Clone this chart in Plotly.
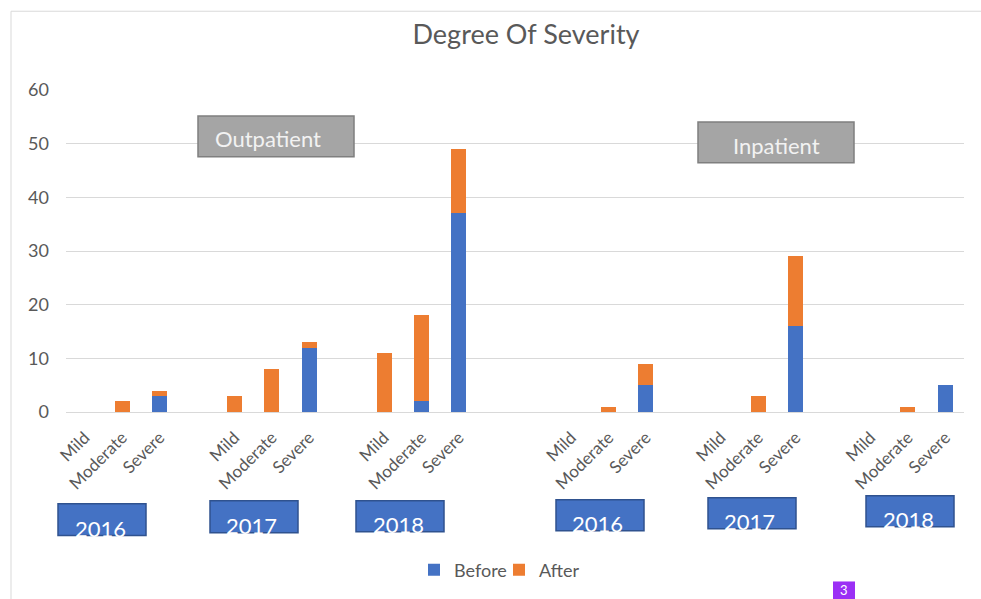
import plotly.graph_objects as go

# ---------------- data ----------------
severity = ["Mild", "Moderate", "Severe"]
years = ["2016", "2017", "2018"]
groups = ["Outpatient", "Inpatient"]

out_before = [[0, 0, 3], [0, 0, 12], [0, 2, 37]]
out_after = [[0, 2, 1], [3, 8, 1], [11, 16, 12]]
in_before = [[0, 0, 5], [0, 0, 16], [0, 0, 5]]
in_after = [[0, 1, 4], [0, 3, 13], [0, 1, 0]]

y_ticks = [0, 10, 20, 30, 40, 50, 60]

# ---------------- layout helpers ----------------
W, H = 981, 599
L, R, T, B = 66, 17, 90, 186
PW, PH = W - L - R, H - T - B


def px(x):
    return (x - L) / PW


def py(y):
    return (H - B - y) / PH


# build slot positions (gaps between years and between groups)
xs, before, after, ticktext = [], [], [], []
group_start = [0, 13]
for g, (b_data, a_data) in enumerate([(out_before, out_after), (in_before, in_after)]):
    for i, yr in enumerate(years):
        for j, sev in enumerate(severity):
            xs.append(group_start[g] + 4 * i + j)
            before.append(b_data[i][j])
            after.append(a_data[i][j])
            ticktext.append(sev)

BLUE = "#4472C4"
ORANGE = "#ED7D31"
GRAY_TXT = "#595959"
FONT = "Lato"

fig = go.Figure()
fig.add_trace(go.Bar(x=xs, y=before, name="Before", marker_color=BLUE,
                     marker_line_width=0, width=0.4))
fig.add_trace(go.Bar(x=xs, y=after, name="After", marker_color=ORANGE,
                     marker_line_width=0, width=0.4))

shapes = []
annotations = []

# outer frame
shapes.append(dict(type="rect", xref="paper", yref="paper",
                   x0=px(11), x1=px(1000), y0=py(11), y1=py(620),
                   line=dict(color="#D9D9D9", width=1), fillcolor="rgba(0,0,0,0)",
                   layer="below"))

# group labels (gray boxes)
group_boxes = [(198, 354, 116, 157, 268, 139), (698, 854, 122, 163, 776, 146)]
for name, (x0, x1, y0, y1, tx, ty) in zip(groups, group_boxes):
    shapes.append(dict(type="rect", xref="paper", yref="paper",
                       x0=px(x0), x1=px(x1), y0=py(y1), y1=py(y0),
                       line=dict(color="#7F7F7F", width=1.5), fillcolor="#A5A5A5"))
    annotations.append(dict(text=name, xref="paper", yref="paper", x=px(tx), y=py(ty),
                            showarrow=False, xanchor="center", yanchor="middle",
                            font=dict(family=FONT, size=22, color="#F2F2F2")))

# year boxes
year_boxes = [(58, 146, 505, 537, 100, 530), (210, 298, 502, 534, 251, 527),
              (356, 444, 502, 533, 398, 526), (556, 644, 501, 532, 597, 525),
              (708, 796, 499, 530, 749, 523), (866, 954, 497, 528, 908, 521)]
for k, (x0, x1, y0, y1, tx, ty) in enumerate(year_boxes):
    shapes.append(dict(type="rect", xref="paper", yref="paper",
                       x0=px(x0), x1=px(x1), y0=py(y1), y1=py(y0),
                       line=dict(color="#2F528F", width=1.5), fillcolor=BLUE))
    annotations.append(dict(text=years[k % 3], xref="paper", yref="paper", x=px(tx), y=py(ty),
                            showarrow=False, xanchor="center", yanchor="middle",
                            font=dict(family=FONT, size=22, color="white")))

# page badge
shapes.append(dict(type="rect", xref="paper", yref="paper",
                   x0=px(833), x1=px(855), y0=py(610), y1=py(583),
                   line=dict(width=0), fillcolor="#9B2FF5"))
annotations.append(dict(text="3", xref="paper", yref="paper", x=px(844), y=py(592),
                        showarrow=False, xanchor="center", yanchor="middle",
                        font=dict(family=FONT, size=13, color="white")))

fig.update_layout(
    width=W, height=H,
    margin=dict(l=L, r=R, t=T, b=B),
    paper_bgcolor="white", plot_bgcolor="white",
    barmode="stack",
    title=dict(text="Degree Of Severity", x=526 / W, xref="container", xanchor="center",
               y=1 - 35 / H, yref="container", yanchor="middle",
               font=dict(family=FONT, size=27, color=GRAY_TXT)),
    font=dict(family=FONT, color=GRAY_TXT),
    showlegend=True,
    legend=dict(orientation="h", x=px(414), y=py(570), xanchor="left", yanchor="middle",
                traceorder="normal", entrywidth=40, entrywidthmode="pixels",
                font=dict(family=FONT, size=18, color=GRAY_TXT), itemwidth=30,
                bgcolor="rgba(0,0,0,0)"),
    shapes=shapes,
    annotations=annotations,
    xaxis=dict(range=[-0.5, 23.5], tickmode="array", tickvals=xs, ticktext=ticktext,
               tickangle=-45, showgrid=False, zeroline=False,
               showline=True, linecolor="#D9D9D9", linewidth=1,
               tickfont=dict(family=FONT, size=17, color=GRAY_TXT),
               ticklabelstandoff=8),
    yaxis=dict(range=[0, 60], tickvals=y_ticks, showgrid=True, gridcolor="#D9D9D9",
               gridwidth=1, zeroline=False, showline=False,
               tickfont=dict(family=FONT, size=18, color=GRAY_TXT),
               ticklabelstandoff=16),
)

fig.write_html("out.html", config={"displayModeBar": False},
               post_script="document.body.style.margin='0';")
